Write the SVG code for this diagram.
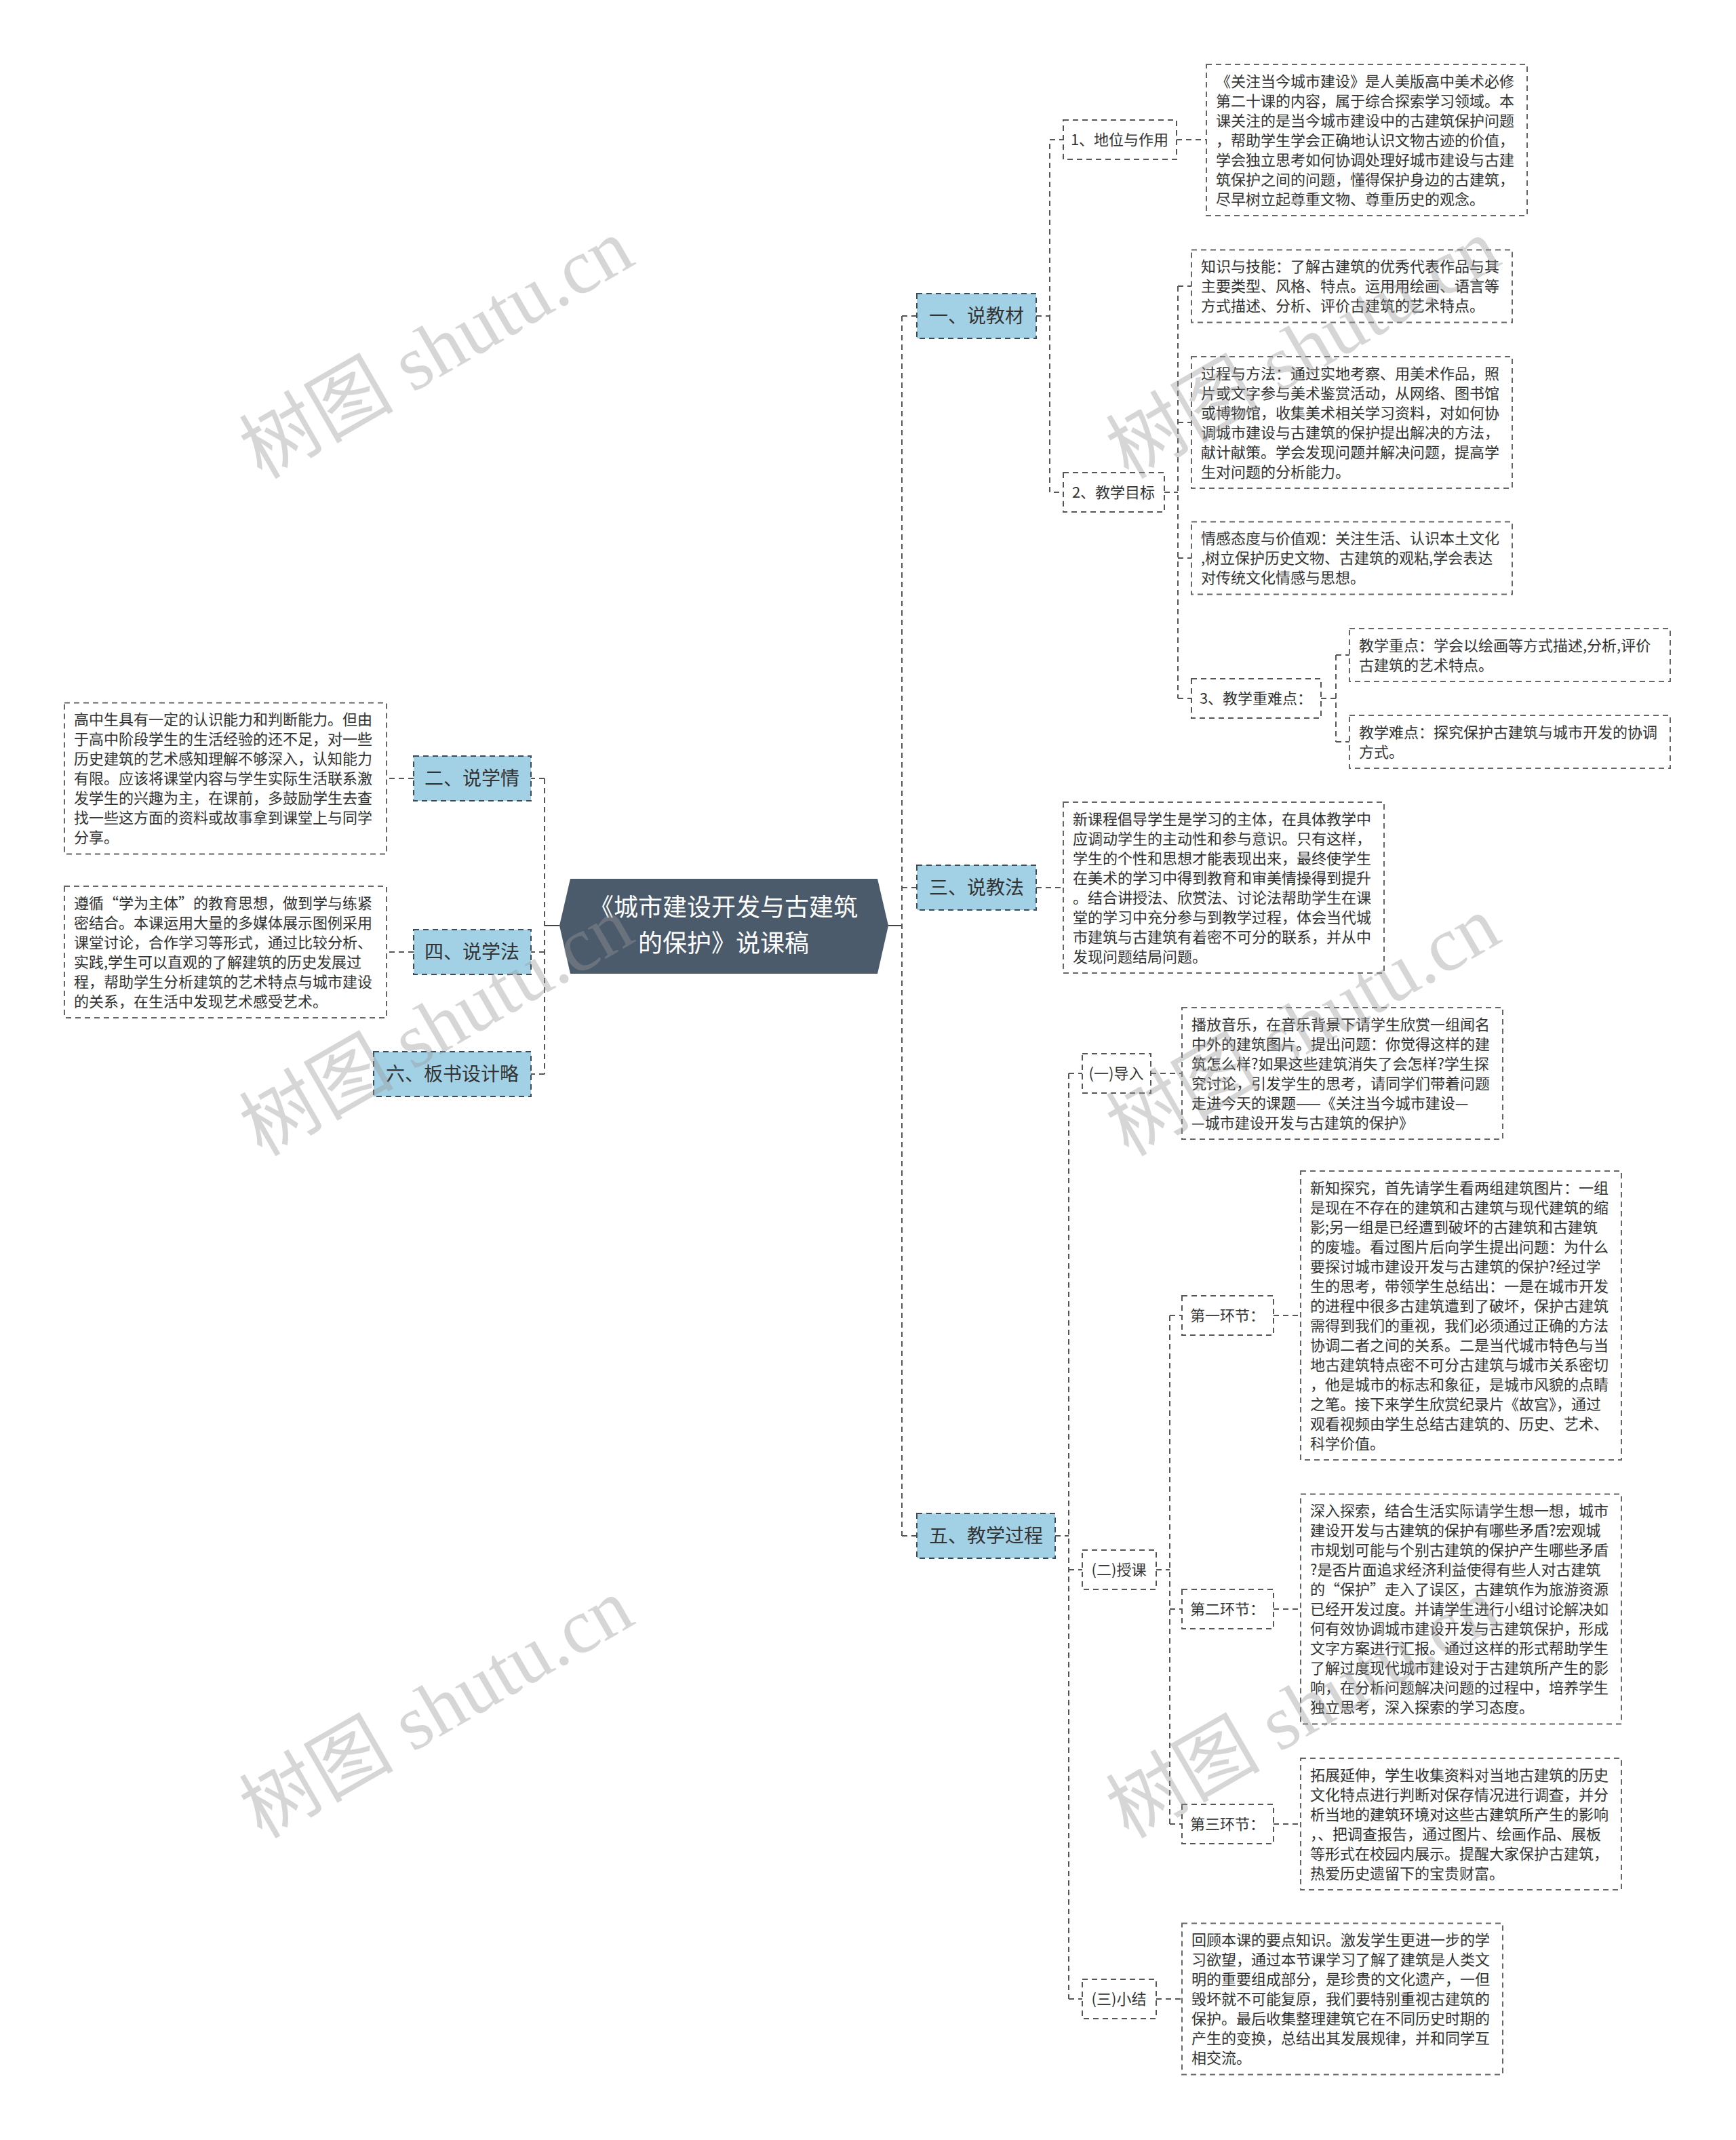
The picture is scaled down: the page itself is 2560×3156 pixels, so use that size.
<svg xmlns="http://www.w3.org/2000/svg" width="2560" height="3156" viewBox="0 0 2560 3156">
<style>
text{font-family:"Noto Sans CJK SC","Noto Sans",sans-serif;fill:#333}
.conn path{fill:none;stroke:#555;stroke-width:2;stroke-dasharray:8 6}
.conn .solid{stroke-dasharray:none;stroke:#444}
.main rect{fill:#a2d1e6;stroke:#3c4b58;stroke-width:2;stroke-dasharray:8 6}
.main text{font-size:28px;text-anchor:middle}
.sub rect{fill:#fff;stroke:#555;stroke-width:2;stroke-dasharray:8 6}
.sub text{font-size:22px;text-anchor:middle}
.box rect{fill:#fff;stroke:#666;stroke-width:2;stroke-dasharray:8 6}
.box text{font-size:22px}
.root text{font-size:36px;fill:#fff;text-anchor:middle}
.wm text{font-family:"Liberation Serif","Noto Sans CJK SC",serif;font-size:114px;fill:#999;fill-opacity:0.4;text-anchor:middle}
</style>
<rect width="2560" height="3156" fill="#fff"/>

<g class="conn" id="connectors">
<path class="solid" d="M1310 1365H1330"/>
<path d="M1330 466V2265M1330 466H1352M1330 1309H1352M1330 2265H1352"/>
<path class="solid" d="M825 1365H803"/>
<path d="M803 1148V1584M803 1148H783M803 1404H783M803 1584H783"/>
<path d="M610 1148H570M610 1404H570"/>
<path d="M1528 466H1548V206H1568M1548 466V726H1568"/>
<path d="M1735 206H1779"/>
<path d="M1717 726H1737M1737 422V1030M1737 422H1757M1737 623H1757M1737 823H1757M1737 1030H1757"/>
<path d="M1948 1030H1970M1970 966V1094M1970 966H1990M1970 1094H1990"/>
<path d="M1528 1309H1568"/>
<path d="M1556 2265H1576M1576 1583V2948M1576 1583H1596M1576 2315H1596M1576 2948H1596"/>
<path d="M1697 1583H1743"/>
<path d="M1705 2315H1725M1725 1940V2690M1725 1940H1743M1725 2373H1743M1725 2690H1743"/>
<path d="M1878 1940H1918M1878 2373H1918M1878 2690H1918"/>
<path d="M1705 2948H1743"/>
</g>

<g id="root" class="root">
<polygon points="825,1365 841,1296 1294,1296 1310,1365 1294,1436 841,1436" fill="#4b5b6b"/>
<text x="1067" y="1351">《城市建设开发与古建筑</text>
<text x="1067" y="1404">的保护》说课稿</text>
</g>

<g id="n-jiaocai" class="main"><rect x="1352" y="433" width="176" height="66"/><text x="1440" y="476">一、说教材</text></g>
<g id="n-jiaofa" class="main"><rect x="1352" y="1276" width="176" height="66"/><text x="1440" y="1319">三、说教法</text></g>
<g id="n-guocheng" class="main"><rect x="1352" y="2232" width="204" height="66"/><text x="1454" y="2275">五、教学过程</text></g>
<g id="n-xueqing" class="main"><rect x="610" y="1115" width="173" height="66"/><text x="696" y="1158">二、说学情</text></g>
<g id="n-xuefa" class="main"><rect x="610" y="1371" width="173" height="66"/><text x="696" y="1414">四、说学法</text></g>
<g id="n-banshu" class="main"><rect x="551" y="1551" width="232" height="66"/><text x="667" y="1594">六、板书设计略</text></g>

<g id="s-diwei" class="sub"><rect x="1568" y="177" width="167" height="58"/><text x="1651" y="214">1、地位与作用</text></g>
<g id="s-mubiao" class="sub"><rect x="1568" y="697" width="149" height="58"/><text x="1642" y="734">2、教学目标</text></g>
<g id="s-zhongnan" class="sub"><rect x="1757" y="1001" width="191" height="58"/><text x="1852" y="1038">3、教学重难点：</text></g>
<g id="s-daoru" class="sub"><rect x="1596" y="1554" width="101" height="58"/><text x="1646" y="1591">(一)导入</text></g>
<g id="s-shouke" class="sub"><rect x="1596" y="2286" width="109" height="58"/><text x="1650" y="2323">(二)授课</text></g>
<g id="s-xiaojie" class="sub"><rect x="1596" y="2919" width="109" height="58"/><text x="1650" y="2956">(三)小结</text></g>
<g id="s-hj1" class="sub"><rect x="1743" y="1911" width="135" height="58"/><text x="1810" y="1948">第一环节：</text></g>
<g id="s-hj2" class="sub"><rect x="1743" y="2344" width="135" height="58"/><text x="1810" y="2381">第二环节：</text></g>
<g id="s-hj3" class="sub"><rect x="1743" y="2661" width="135" height="58"/><text x="1810" y="2698">第三环节：</text></g>

<g id="t-diwei" class="box"><rect x="1779" y="95" width="473" height="223"/>
<text x="1793" y="127.5"><tspan x="1793">《关注当今城市建设》是人美版高中美术必修</tspan><tspan x="1793" dy="29">第二十课的内容，属于综合探索学习领域。本</tspan><tspan x="1793" dy="29">课关注的是当今城市建设中的古建筑保护问题</tspan><tspan x="1793" dy="29">，帮助学生学会正确地认识文物古迹的价值，</tspan><tspan x="1793" dy="29">学会独立思考如何协调处理好城市建设与古建</tspan><tspan x="1793" dy="29">筑保护之间的问题，懂得保护身边的古建筑，</tspan><tspan x="1793" dy="29">尽早树立起尊重文物、尊重历史的观念。</tspan></text></g>

<g id="t-zhishi" class="box"><rect x="1757" y="368.5" width="473" height="107"/>
<text x="1771" y="401"><tspan x="1771">知识与技能：了解古建筑的优秀代表作品与其</tspan><tspan x="1771" dy="29">主要类型、风格、特点。运用用绘画、语言等</tspan><tspan x="1771" dy="29">方式描述、分析、评价古建筑的艺术特点。</tspan></text></g>

<g id="t-guocheng" class="box"><rect x="1757" y="526" width="473" height="194"/>
<text x="1771" y="558.5"><tspan x="1771">过程与方法：通过实地考察、用美术作品，照</tspan><tspan x="1771" dy="29">片或文字参与美术鉴赏活动，从网络、图书馆</tspan><tspan x="1771" dy="29">或博物馆，收集美术相关学习资料，对如何协</tspan><tspan x="1771" dy="29">调城市建设与古建筑的保护提出解决的方法，</tspan><tspan x="1771" dy="29">献计献策。学会发现问题并解决问题，提高学</tspan><tspan x="1771" dy="29">生对问题的分析能力。</tspan></text></g>

<g id="t-qinggan" class="box"><rect x="1757" y="769.5" width="473" height="107"/>
<text x="1771" y="802"><tspan x="1771">情感态度与价值观：关注生活、认识本土文化</tspan><tspan x="1771" dy="29">,树立保护历史文物、古建筑的观粘,学会表达</tspan><tspan x="1771" dy="29">对传统文化情感与思想。</tspan></text></g>

<g id="t-zhongdian" class="box"><rect x="1990" y="927" width="473" height="78"/>
<text x="2004" y="959.5"><tspan x="2004">教学重点：学会以绘画等方式描述,分析,评价</tspan><tspan x="2004" dy="29">古建筑的艺术特点。</tspan></text></g>

<g id="t-nandian" class="box"><rect x="1990" y="1055" width="473" height="78"/>
<text x="2004" y="1087.5"><tspan x="2004">教学难点：探究保护古建筑与城市开发的协调</tspan><tspan x="2004" dy="29">方式。</tspan></text></g>

<g id="t-jiaofa" class="box"><rect x="1568" y="1183" width="473" height="252"/>
<text x="1582" y="1215.5"><tspan x="1582">新课程倡导学生是学习的主体，在具体教学中</tspan><tspan x="1582" dy="29">应调动学生的主动性和参与意识。只有这样，</tspan><tspan x="1582" dy="29">学生的个性和思想才能表现出来，最终使学生</tspan><tspan x="1582" dy="29">在美术的学习中得到教育和审美情操得到提升</tspan><tspan x="1582" dy="29">。结合讲授法、欣赏法、讨论法帮助学生在课</tspan><tspan x="1582" dy="29">堂的学习中充分参与到教学过程，体会当代城</tspan><tspan x="1582" dy="29">市建筑与古建筑有着密不可分的联系，并从中</tspan><tspan x="1582" dy="29">发现问题结局问题。</tspan></text></g>

<g id="t-daoru" class="box"><rect x="1743" y="1486" width="473" height="194"/>
<text x="1757" y="1518.5"><tspan x="1757">播放音乐，在音乐背景下请学生欣赏一组闻名</tspan><tspan x="1757" dy="29">中外的建筑图片。提出问题：你觉得这样的建</tspan><tspan x="1757" dy="29">筑怎么样?如果这些建筑消失了会怎样?学生探</tspan><tspan x="1757" dy="29">究讨论，引发学生的思考，请同学们带着问题</tspan><tspan x="1757" dy="29">走进今天的课题——《关注当今城市建设—</tspan><tspan x="1757" dy="29">—城市建设开发与古建筑的保护》</tspan></text></g>

<g id="t-hj1" class="box"><rect x="1918" y="1727" width="473" height="426"/>
<text x="1932" y="1759.5"><tspan x="1932">新知探究，首先请学生看两组建筑图片：一组</tspan><tspan x="1932" dy="29">是现在不存在的建筑和古建筑与现代建筑的缩</tspan><tspan x="1932" dy="29">影;另一组是已经遭到破坏的古建筑和古建筑</tspan><tspan x="1932" dy="29">的废墟。看过图片后向学生提出问题：为什么</tspan><tspan x="1932" dy="29">要探讨城市建设开发与古建筑的保护?经过学</tspan><tspan x="1932" dy="29">生的思考，带领学生总结出：一是在城市开发</tspan><tspan x="1932" dy="29">的进程中很多古建筑遭到了破坏，保护古建筑</tspan><tspan x="1932" dy="29">需得到我们的重视，我们必须通过正确的方法</tspan><tspan x="1932" dy="29">协调二者之间的关系。二是当代城市特色与当</tspan><tspan x="1932" dy="29">地古建筑特点密不可分古建筑与城市关系密切</tspan><tspan x="1932" dy="29">，他是城市的标志和象征，是城市风貌的点睛</tspan><tspan x="1932" dy="29">之笔。接下来学生欣赏纪录片《故宫》，通过</tspan><tspan x="1932" dy="29">观看视频由学生总结古建筑的、历史、艺术、</tspan><tspan x="1932" dy="29">科学价值。</tspan></text></g>

<g id="t-hj2" class="box"><rect x="1918" y="2203.5" width="473" height="339"/>
<text x="1932" y="2236"><tspan x="1932">深入探索，结合生活实际请学生想一想，城市</tspan><tspan x="1932" dy="29">建设开发与古建筑的保护有哪些矛盾?宏观城</tspan><tspan x="1932" dy="29">市规划可能与个别古建筑的保护产生哪些矛盾</tspan><tspan x="1932" dy="29">?是否片面追求经济利益使得有些人对古建筑</tspan><tspan x="1932" dy="29">的“保护”走入了误区，古建筑作为旅游资源</tspan><tspan x="1932" dy="29">已经开发过度。并请学生进行小组讨论解决如</tspan><tspan x="1932" dy="29">何有效协调城市建设开发与古建筑保护，形成</tspan><tspan x="1932" dy="29">文字方案进行汇报。通过这样的形式帮助学生</tspan><tspan x="1932" dy="29">了解过度现代城市建设对于古建筑所产生的影</tspan><tspan x="1932" dy="29">响，在分析问题解决问题的过程中，培养学生</tspan><tspan x="1932" dy="29">独立思考，深入探索的学习态度。</tspan></text></g>

<g id="t-hj3" class="box"><rect x="1918" y="2593" width="473" height="194"/>
<text x="1932" y="2625.5"><tspan x="1932">拓展延伸，学生收集资料对当地古建筑的历史</tspan><tspan x="1932" dy="29">文化特点进行判断对保存情况进行调查，并分</tspan><tspan x="1932" dy="29">析当地的建筑环境对这些古建筑所产生的影响</tspan><tspan x="1932" dy="29">，、把调查报告，通过图片、绘画作品、展板</tspan><tspan x="1932" dy="29">等形式在校园内展示。提醒大家保护古建筑，</tspan><tspan x="1932" dy="29">热爱历史遗留下的宝贵财富。</tspan></text></g>

<g id="t-xiaojie" class="box"><rect x="1743" y="2836.5" width="473" height="223"/>
<text x="1757" y="2869"><tspan x="1757">回顾本课的要点知识。激发学生更进一步的学</tspan><tspan x="1757" dy="29">习欲望，通过本节课学习了解了建筑是人类文</tspan><tspan x="1757" dy="29">明的重要组成部分，是珍贵的文化遗产，一但</tspan><tspan x="1757" dy="29">毁坏就不可能复原，我们要特别重视古建筑的</tspan><tspan x="1757" dy="29">保护。最后收集整理建筑它在不同历史时期的</tspan><tspan x="1757" dy="29">产生的变换，总结出其发展规律，并和同学互</tspan><tspan x="1757" dy="29">相交流。</tspan></text></g>

<g id="t-xueqing" class="box"><rect x="95" y="1036.5" width="475" height="223"/>
<text x="109" y="1069"><tspan x="109">高中生具有一定的认识能力和判断能力。但由</tspan><tspan x="109" dy="29">于高中阶段学生的生活经验的还不足，对一些</tspan><tspan x="109" dy="29">历史建筑的艺术感知理解不够深入，认知能力</tspan><tspan x="109" dy="29">有限。应该将课堂内容与学生实际生活联系激</tspan><tspan x="109" dy="29">发学生的兴趣为主，在课前，多鼓励学生去查</tspan><tspan x="109" dy="29">找一些这方面的资料或故事拿到课堂上与同学</tspan><tspan x="109" dy="29">分享。</tspan></text></g>

<g id="t-xuefa" class="box"><rect x="95" y="1307" width="475" height="194"/>
<text x="109" y="1339.5"><tspan x="109">遵循“学为主体”的教育思想，做到学与练紧</tspan><tspan x="109" dy="29">密结合。本课运用大量的多媒体展示图例采用</tspan><tspan x="109" dy="29">课堂讨论，合作学习等形式，通过比较分析、</tspan><tspan x="109" dy="29">实践,学生可以直观的了解建筑的历史发展过</tspan><tspan x="109" dy="29">程，帮助学生分析建筑的艺术特点与城市建设</tspan><tspan x="109" dy="29">的关系，在生活中发现艺术感受艺术。</tspan></text></g>

<g class="wm" id="watermarks">
<text x="644" y="553" transform="rotate(-30 644 515)">树图 shutu.cn</text>
<text x="1922" y="553" transform="rotate(-30 1922 515)">树图 shutu.cn</text>
<text x="644" y="1552" transform="rotate(-30 644 1514)">树图 shutu.cn</text>
<text x="1922" y="1552" transform="rotate(-30 1922 1514)">树图 shutu.cn</text>
<text x="644" y="2558" transform="rotate(-30 644 2520)">树图 shutu.cn</text>
<text x="1922" y="2558" transform="rotate(-30 1922 2520)">树图 shutu.cn</text>
</g>
</svg>
